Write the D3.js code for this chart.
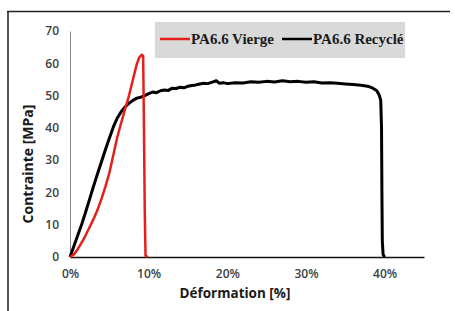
<!DOCTYPE html>
<html>
<head>
<meta charset="utf-8">
<script src="https://cdn.jsdelivr.net/npm/d3@7"></script>
<style>
  html, body { margin: 0; padding: 0; background: #fff; }
  svg { display: block; }
</style>
</head>
<body>
<svg id="chart" width="455" height="311"></svg>
<script>
// ---- Data (strain in %, stress in MPa) ----
const seriesNames = ["PA6.6 Vierge", "PA6.6 Recyclé"];
const seriesColors = ["#e3201b", "#000000"];

const viergeStrain = [0, 0.5, 1, 1.5, 2, 2.5, 3, 3.5, 4, 4.5, 5, 5.5, 6, 6.5, 7, 7.5, 8, 8.5, 8.8, 9.1, 9.3, 9.4, 9.5, 9.6, 9.9];
const viergeStress = [0, 0.8, 2.5, 4.5, 6.8, 9.3, 11.8, 14.6, 18, 21.8, 26, 31.5, 37, 41.5, 45.8, 50, 55, 59.8, 61.8, 62.6, 62.3, 40, 15, 0.4, 0];

const recycleStrain = [0, 0.5, 1, 1.5, 2, 2.5, 3, 3.5, 4, 4.5, 5, 5.5, 6, 6.5, 7, 7.5, 8, 8.5, 9, 9.5, 10, 10.5, 11, 11.5, 12, 12.5, 13, 13.5, 14, 14.5, 15, 15.5, 16, 16.5, 17, 17.5, 18, 18.6, 19, 19.5, 20, 21, 22, 23, 24, 25, 26, 27, 28, 29, 30, 31, 32, 33, 34, 35, 36, 37, 38, 38.5, 39, 39.3, 39.5, 39.6, 39.65, 39.7, 39.8, 40];
const recycleStress = [0, 3.4, 6.8, 10.2, 14, 18, 22, 25.8, 29.5, 33.2, 36.8, 40.2, 43, 45, 46.5, 47.6, 48.5, 49.2, 49.5, 50, 50.6, 51.1, 50.9, 51.5, 51.7, 51.6, 52.3, 52.2, 52.6, 52.4, 52.9, 53.1, 53.3, 53.6, 53.8, 53.7, 54.1, 54.6, 53.8, 54.0, 53.7, 54.0, 53.9, 54.3, 54.1, 54.4, 54.2, 54.6, 54.3, 54.4, 54.1, 54.3, 53.9, 54.0, 53.8, 53.6, 53.4, 53.2, 52.8, 52.3, 51.5, 50.2, 48.5, 40, 20, 5, 0.8, 0];

const xTicks = [0, 10, 20, 30, 40];
const yTicks = [0, 10, 20, 30, 40, 50, 60, 70];
const xTitle = "Déformation [%]";
const yTitle = "Contrainte [MPa]";

// ---- Layout ----
const svg = d3.select("#chart");
const x = d3.scaleLinear().domain([0, 45]).range([70, 424]);
const y = d3.scaleLinear().domain([0, 70]).range([257, 31]);

// outer frame
svg.append("line").attr("x1", 8).attr("x2", 8).attr("y1", 11).attr("y2", 311)
  .attr("stroke", "#555").attr("stroke-width", 2);
svg.append("line").attr("x1", 7).attr("x2", 450).attr("y1", 11.5).attr("y2", 11.5)
  .attr("stroke", "#222").attr("stroke-width", 1.6);

// axes
const yAxis = svg.append("g").attr("transform", "translate(70,0)")
  .call(d3.axisLeft(y).tickValues(yTicks).tickSize(0).tickPadding(11).tickFormat(d3.format("d")));
yAxis.select(".domain").attr("stroke", "#888").attr("stroke-width", 1);

const xAxis = svg.append("g").attr("transform", "translate(0,257)")
  .call(d3.axisBottom(x).tickValues(xTicks).tickSize(0).tickPadding(12).tickFormat(d => d + "%"));
xAxis.select(".domain").attr("stroke", "#111").attr("stroke-width", 1.3);

svg.selectAll(".tick text")
  .attr("font-family", "'Open Sans', sans-serif")
  .attr("font-size", 12)
  .attr("font-weight", 600)
  .attr("fill", "#404040");

// axis titles
svg.append("text")
  .attr("transform", "translate(33,164) rotate(-90)")
  .attr("text-anchor", "middle")
  .attr("font-family", "'Open Sans', sans-serif")
  .attr("font-weight", 700)
  .attr("font-size", 14)
  .attr("fill", "#1a1a1a")
  .text(yTitle);

svg.append("text")
  .attr("x", 235).attr("y", 298)
  .attr("text-anchor", "middle")
  .attr("font-family", "'Open Sans', sans-serif")
  .attr("font-weight", 700)
  .attr("font-size", 13.5)
  .attr("fill", "#1a1a1a")
  .text(xTitle);

// curves
const line = d3.line().x(d => x(d[0])).y(d => y(d[1]));
const recycleData = recycleStrain.map((s, i) => [s, recycleStress[i]]);
const viergeData = viergeStrain.map((s, i) => [s, viergeStress[i]]);

svg.append("path").datum(recycleData).attr("d", line)
  .attr("fill", "none").attr("stroke", seriesColors[1]).attr("stroke-width", 3)
  .attr("stroke-linejoin", "round");
svg.append("path").datum(viergeData).attr("d", line)
  .attr("fill", "none").attr("stroke", seriesColors[0]).attr("stroke-width", 2.5)
  .attr("stroke-linejoin", "round");

// legend
const lg = svg.append("g");
lg.append("rect").attr("x", 155).attr("y", 22).attr("width", 250).attr("height", 36)
  .attr("fill", "#d9d9d9");
const legendItems = [
  { name: seriesNames[0], color: seriesColors[0], x0: 160 },
  { name: seriesNames[1], color: seriesColors[1], x0: 282 }
];
legendItems.forEach(it => {
  lg.append("line").attr("x1", it.x0).attr("x2", it.x0 + 30).attr("y1", 39).attr("y2", 39)
    .attr("stroke", it.color).attr("stroke-width", 2.5);
  lg.append("text").attr("x", it.x0 + 31).attr("y", 44)
    .attr("font-family", "'Liberation Serif', 'Times New Roman', serif")
    .attr("font-weight", 700).attr("font-size", 15).attr("fill", "#1a1a1a")
    .text(it.name);
});
</script>
</body>
</html>
